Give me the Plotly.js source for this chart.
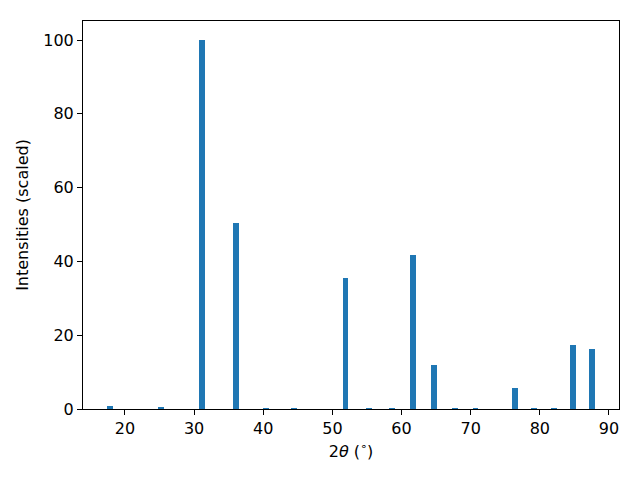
<!DOCTYPE html>
<html>
<head>
<meta charset="utf-8">
<script src="https://cdn.plot.ly/plotly-3.0.1.min.js"></script>
<style>html,body{margin:0;padding:0;background:#fff;}</style>
</head>
<body>
<div id="chart" style="width:640px;height:480px;"></div>
<script>
const twoTheta = [17.8, 25.25, 31.1, 36.05, 40.4, 44.5, 51.9, 55.3, 58.6, 61.7, 64.7, 67.7, 70.7, 76.4, 79.1, 82.0, 84.75, 87.5];
const intensity = [0.9, 0.5, 100, 50.3, 0.3, 0.3, 35.5, 0.3, 0.3, 41.7, 11.9, 0.3, 0.3, 5.7, 0.3, 0.3, 17.3, 16.3];
const xTicks = [20, 30, 40, 50, 60, 70, 80, 90];
const yTicks = [0, 20, 40, 60, 80, 100];

const font = {family: 'DejaVu Sans', size: 16, color: '#000'};
const axisCommon = {
  showline: true, linecolor: '#000', linewidth: 1, mirror: true,
  ticks: 'outside', ticklen: 5, tickwidth: 1, tickcolor: '#000',
  showgrid: false, zeroline: false, tickfont: font
};

Plotly.newPlot('chart', [{
  type: 'bar',
  x: twoTheta,
  y: intensity,
  width: 0.85,
  marker: {color: '#1f77b4', line: {width: 0}}
}], {
  width: 640, height: 480,
  margin: {l: 83, r: 21, t: 21, b: 71},
  paper_bgcolor: '#fff', plot_bgcolor: '#fff',
  font: font,
  showlegend: false,
  bargap: 0,
  xaxis: Object.assign({}, axisCommon, {
    range: [13.93, 91.45], tickvals: xTicks, ticktext: xTicks.map(String),
    title: {text: '2<i>θ</i> (<sup>∘</sup>)', font: font, standoff: 8}
  }),
  yaxis: Object.assign({}, axisCommon, {
    range: [0, 105.15], tickvals: yTicks, ticktext: yTicks.map(String),
    title: {text: 'Intensities (scaled)', font: font, standoff: 10}
  })
}, {displayModeBar: false, staticPlot: true});
</script>
</body>
</html>
